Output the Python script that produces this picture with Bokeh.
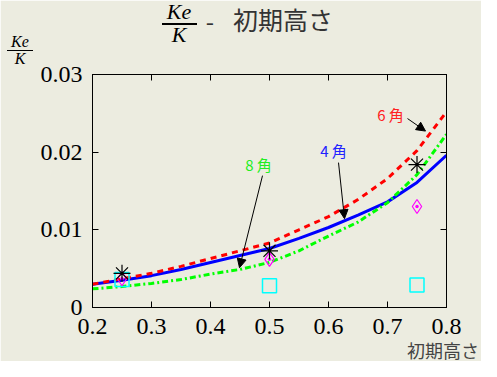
from bokeh.plotting import figure
from bokeh.models import (Label, Arrow, NormalHead, LinearAxis, FixedTicker,
                          CustomJSTickFormatter, Range1d, Div)
from bokeh.layouts import column
from bokeh.embed import file_html
from bokeh.resources import INLINE

# ---- data ----
x_vals = [0.2, 0.25, 0.3, 0.35, 0.4, 0.45, 0.5, 0.55, 0.6, 0.65, 0.7, 0.75, 0.8]
kaku6 = [0.0030, 0.0037, 0.0044, 0.0053, 0.0063, 0.0073, 0.0083, 0.0100, 0.0117, 0.0139, 0.0166, 0.0202, 0.0252]
kaku4 = [0.0030, 0.0035, 0.0041, 0.0049, 0.0058, 0.0067, 0.0076, 0.0089, 0.0103, 0.0119, 0.0136, 0.0161, 0.0196]
kaku8 = [0.0024, 0.0027, 0.0031, 0.0036, 0.0043, 0.0049, 0.0058, 0.0073, 0.0092, 0.0110, 0.0135, 0.0171, 0.0223]

pt_x = [0.25, 0.5, 0.75]
asterisk_y = [0.0044, 0.0073, 0.0184]
diamond_y = [0.0037, 0.0062, 0.0130]
square_y = [0.0036, 0.0028, 0.0029]

x_ticks = [0.2, 0.3, 0.4, 0.5, 0.6, 0.7, 0.8]
y_ticks = [0, 0.01, 0.02, 0.03]
y_tick_labels = ["0", "0.01", "0.02", "0.03"]

frac_num = "Ke"
frac_den = "K"
title_text = "初期高さ"
x_label = "初期高さ"
series_labels = ["6 角", "4 角", "8 角"]

BG = "#ECECE0"
W, H = 481, 361

# ---- overlay (title, y-axis label, x-axis label) drawn over the figure's borders ----
def span(left, top, width, text, size, font, style="normal", color="#000", align="center"):
    return (f'<div style="position:absolute;left:{left}px;top:{top}px;width:{width}px;'
            f'text-align:{align};font-family:\'{font}\';font-size:{size}px;line-height:{size}px;'
            f'font-style:{style};color:{color};white-space:nowrap;">{text}</div>')

def bar(left, top, width, h=1):
    return (f'<div style="position:absolute;left:{left}px;top:{top}px;width:{width}px;'
            f'height:{h}px;background:#000;"></div>')

serif = "Liberation Serif"
cjk = "Noto Sans CJK JP"
html = (f'<div style="position:relative;width:{W}px;height:{H}px;pointer-events:none;">'
        + span(159, 1, 40, frac_num, 22, serif, "italic")
        + bar(162, 23, 35, 2)
        + span(159, 24, 40, frac_den, 22, serif, "italic")
        + span(203, 9, 14, "-", 24, cjk, color="#333")
        + span(233, 7, 110, title_text, 25, cjk, color="#333", align="left")
        + span(0, 34, 40, frac_num, 16, serif, "italic")
        + bar(7, 50, 26, 1)
        + span(0, 51, 40, frac_den, 16, serif, "italic")
        + span(380, 341, 99, x_label, 18, cjk, color="#444", align="right")
        + '</div>')
overlay = Div(text=html, width=W, height=H, margin=0,
              styles={"position": "absolute", "left": "0px", "top": "0px", "z-index": "10"})

# ---- main figure: frame at image px left 92, right 446, top 74, bottom 307 ----
p = figure(width=W, height=H, output_backend="svg", toolbar_location=None,
           x_range=Range1d(0.2, 0.8), y_range=Range1d(0, 0.03),
           min_border_left=92, min_border_right=35, min_border_top=74,
           min_border_bottom=54, x_axis_type=None, y_axis_type=None, margin=0)
p.title.visible = False
p.background_fill_color = BG
p.border_fill_color = BG
p.outline_line_color = "black"
p.outline_line_width = 1
p.grid.visible = False

blank = CustomJSTickFormatter(code="return ''")

def style_axis(ax, labels=True):
    ax.axis_line_color = "black"
    ax.major_tick_in = 6
    ax.major_tick_out = 0
    ax.minor_tick_line_color = None
    ax.major_tick_line_color = "black"
    ax.major_label_text_font = serif
    ax.major_label_text_font_size = "24px"
    ax.major_label_text_color = "black"
    if not labels:
        ax.formatter = blank
        ax.major_label_standoff = 0
        ax.major_label_text_font_size = "1px"

xb = LinearAxis(ticker=FixedTicker(ticks=x_ticks))
style_axis(xb)
xb.major_label_standoff = 11
xt = LinearAxis(ticker=FixedTicker(ticks=x_ticks))
style_axis(xt, labels=False)
yl = LinearAxis(ticker=FixedTicker(ticks=y_ticks))
style_axis(yl)
yl.major_label_standoff = 10
yl.major_label_overrides = {t: s for t, s in zip(y_ticks, y_tick_labels)}
yr = LinearAxis(ticker=FixedTicker(ticks=y_ticks))
style_axis(yr, labels=False)
p.add_layout(xb, "below")
p.add_layout(xt, "above")
p.add_layout(yl, "left")
p.add_layout(yr, "right")

# ---- lines ----
p.line(x_vals, kaku4, line_color="#0000FF", line_width=3)
p.line(x_vals, kaku8, line_color="#00FF00", line_width=3, line_dash="6 3 2 3")
p.line(x_vals, kaku6, line_color="#FF0000", line_width=3, line_dash="6 5")

# ---- markers ----
p.scatter(pt_x, square_y, marker="square", size=14, line_color="#00FFFF",
          fill_alpha=0, line_width=1.5)
p.scatter(pt_x, diamond_y, marker="diamond_dot", size=14, line_color="#FF00FF",
          fill_alpha=0, line_width=1.2)
p.scatter(pt_x, asterisk_y, marker="asterisk", size=17, line_color="black",
          line_width=1.2)

# ---- pixel -> data helpers for annotation positions (image px) ----
def dx(px):
    return 0.2 + (px - 92) / 354 * 0.6

def dy(py):
    return (306.7 - py) / 232.7 * 0.03

lab_pos = [(390, 113.5), (333, 150), (258, 164)]
lab_col = ["#FF2222", "#2222FF", "#22EE22"]
arrows = [((407, 118), (425, 130.5)), ((338, 162), (344, 218)), ((262, 175), (239, 267))]
for (tx, ty), c, s in zip(lab_pos, lab_col, series_labels):
    p.add_layout(Label(x=dx(tx), y=dy(ty), text=s, text_color=c,
                       text_font=cjk, text_font_size="15px",
                       text_align="center", text_baseline="middle"))
for (a, b) in arrows:
    p.add_layout(Arrow(x_start=dx(a[0]), y_start=dy(a[1]), x_end=dx(b[0]), y_end=dy(b[1]),
                       line_color="black", line_width=1,
                       end=NormalHead(size=9, fill_color="black", line_color="black")))

layout = column(p, overlay, spacing=0, margin=0)
open("out.html", "w").write(file_html(layout, INLINE))
